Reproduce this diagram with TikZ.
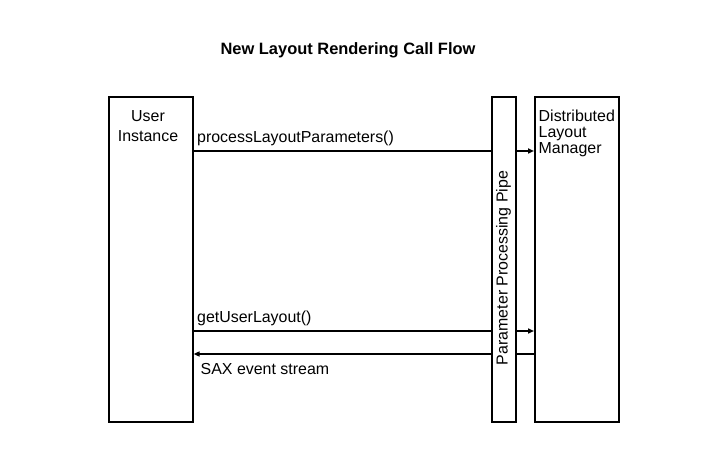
\documentclass[tikz,border=0pt]{standalone}
\usepackage{fontspec}
\setmainfont{Liberation Sans}
\usetikzlibrary{arrows.meta,calc}
\begin{document}
\begin{tikzpicture}[x=1bp,y=-1bp,
  lifebox/.style={draw,line width=1.6bp,inner sep=0pt,anchor=north west},
  msg/.style={line width=1.6bp},
  msgarrow/.style={line width=1.6bp,-{Triangle[length=6bp,width=5bp]}},
  txt/.style={font=\fontsize{16}{16}\selectfont,inner sep=0pt},
  lbl/.style={txt,anchor=base west}]
\useasboundingbox (0,0) rectangle (720,457);
\node[font=\bfseries\fontsize{16.5}{18}\selectfont,inner sep=0pt,anchor=base] (title) at (348,55) {New Layout Rendering Call Flow};
\node[lifebox,minimum width=84bp,minimum height=325bp] (ui) at (108,96) {};
\node[lifebox,minimum width=24bp,minimum height=325bp] (pipe) at (491,96) {};
\node[lifebox,minimum width=84bp,minimum height=325bp] (dlm) at (534,96) {};
\node[txt,anchor=base] (uitxt1) at (148,122) {User};
\node[txt,anchor=base] (uitxt2) at (148,142) {Instance};
\node[lbl] (dlmtxt1) at (538.5,122) {Distributed};
\node[lbl] (dlmtxt2) at (538.5,138) {Layout};
\node[lbl] (dlmtxt3) at (538.5,154) {Manager};
\node[txt,rotate=90,anchor=base] (pipetxt) at (507.5,268) {Parameter Processing Pipe};
% message 1
\coordinate (m1) at (0,151);
\draw[msg] (ui.east |- m1) -- (pipe.west |- m1);
\draw[msgarrow] (pipe.east |- m1) -- (dlm.west |- m1);
\node[lbl] (l1) at (197,143) {processLayoutParameters()};
% message 2
\coordinate (m2) at (0,331);
\draw[msg] (ui.east |- m2) -- (pipe.west |- m2);
\draw[msgarrow] (pipe.east |- m2) -- (dlm.west |- m2);
\node[lbl] (l2) at (197,323) {getUserLayout()};
% message 3
\coordinate (m3) at (0,354);
\draw[msg] (dlm.west |- m3) -- (pipe.east |- m3);
\draw[msgarrow] (pipe.west |- m3) -- (ui.east |- m3);
\node[lbl] (l3) at (200.5,374) {SAX event stream};
\end{tikzpicture}
\end{document}
